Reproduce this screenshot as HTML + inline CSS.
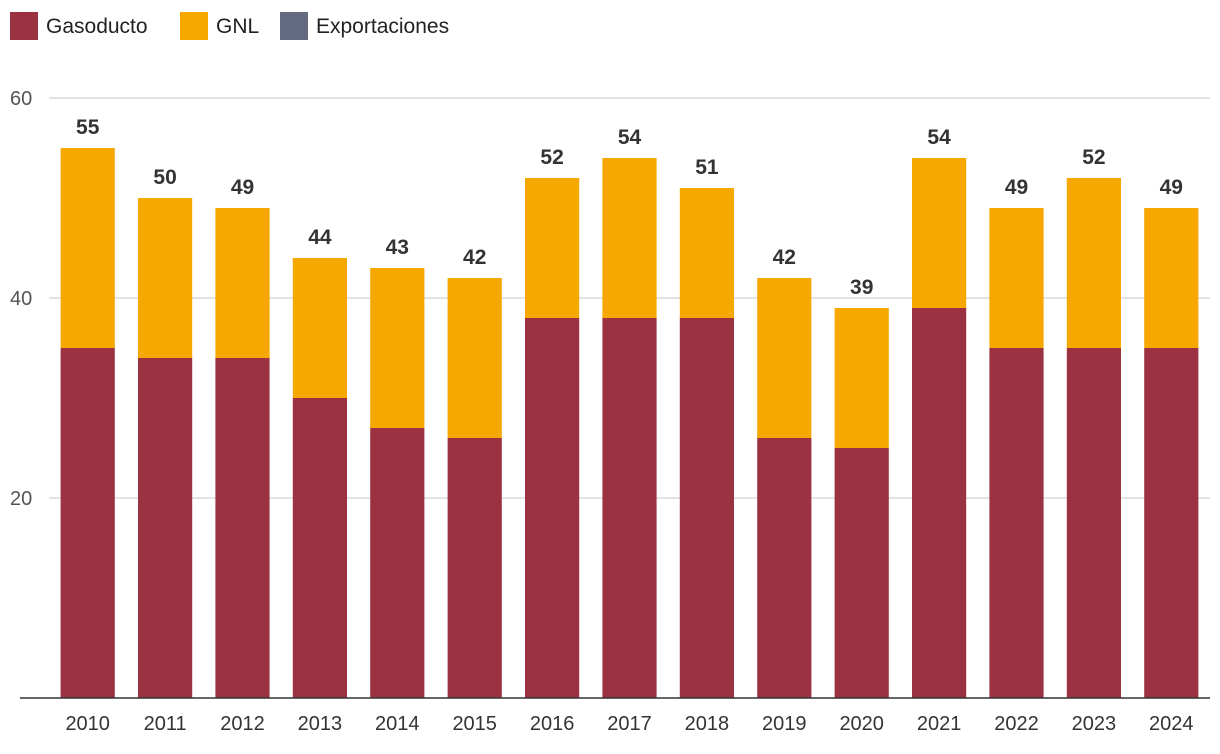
<!DOCTYPE html>
<html><head><meta charset="utf-8"><style>
body{margin:0;background:#fff;font-family:"Liberation Sans",sans-serif;}
svg{display:block}
</style></head><body>
<svg id="chart" width="1220" height="754" xmlns="http://www.w3.org/2000/svg">
<g>
 <g><rect x="10" y="12" width="28" height="28" fill="#9b3241"/><text x="46" y="33" font-size="21" fill="#222">Gasoducto</text></g>
 <g><rect x="180" y="12" width="28" height="28" fill="#f7a800"/><text x="216" y="33" font-size="21" fill="#222">GNL</text></g>
 <g><rect x="280" y="12" width="28" height="28" fill="#636a82"/><text x="316" y="33" font-size="21" fill="#222">Exportaciones</text></g>
</g>
<g id="grid"></g>
<g id="bars"></g>
<g id="labels"></g>
<g id="xaxis"></g>
</svg>
<script>
const categories=["2010","2011","2012","2013","2014","2015","2016","2017","2018","2019","2020","2021","2022","2023","2024"];
const gasoducto=[35,34,34,30,27,26,38,38,38,26,25,39,35,35,35];
const gnl=[20,16,15,14,16,16,14,16,13,16,14,15,14,17,14];
const exportaciones=[0,0,0,0,0,0,0,0,0,0,0,0,0,0,0];
const yTicks=[20,40,60];
const NS="http://www.w3.org/2000/svg";
const left=49,right=1210,y0=698,yTop=98,yMax=60;
const band=(right-left)/categories.length,bw=band*0.7;
const y=v=>y0-(v/yMax)*(y0-yTop);
const xc=i=>left+band*(i+0.5);
function mk(tag,attrs,parent){const e=document.createElementNS(NS,tag);for(const k in attrs)e.setAttribute(k,attrs[k]);parent.appendChild(e);return e;}
const grid=document.getElementById('grid'),bars=document.getElementById('bars'),labels=document.getElementById('labels'),xaxis=document.getElementById('xaxis');
yTicks.forEach(t=>{
 const l=mk('line',{x1:left,x2:right,y1:y(t),y2:y(t),stroke:'#d0d0d0','stroke-width':1.3},grid);
 
 
 const tx=mk('text',{x:10,y:y(t)+7,'font-size':20,fill:'#555'},grid);
 tx.textContent=t;
 
 
});
categories.forEach((c,i)=>{
 const x=xc(i)-bw/2;
 const r1=mk('rect',{x:x,y:y(gasoducto[i]),width:bw,height:y0-y(gasoducto[i]),fill:'#9b3241'},bars);
 
 
 const r2=mk('rect',{x:x,y:y(gasoducto[i]+gnl[i]),width:bw,height:y(gasoducto[i])-y(gasoducto[i]+gnl[i]),fill:'#f7a800'},bars);
 
 
 const tot=gasoducto[i]+gnl[i]+exportaciones[i];
 if(exportaciones[i]>0){const r3=mk('rect',{x:x,y:y(tot),width:bw,height:y(gasoducto[i]+gnl[i])-y(tot),fill:'#636a82'},bars);
 
 }
 const lb=mk('text',{x:xc(i),y:y(tot)-14,'font-size':21,'font-weight':'bold',fill:'#333','text-anchor':'middle'},labels);
 lb.textContent=tot;
 
 
 const xl=mk('text',{x:xc(i),y:730,'font-size':20,fill:'#333','text-anchor':'middle'},xaxis);
 xl.textContent=c;
 
 
});
const ax=mk('line',{x1:20,x2:right,y1:y0,y2:y0,stroke:'#333','stroke-width':1.5},xaxis);


</script>
</body></html>
